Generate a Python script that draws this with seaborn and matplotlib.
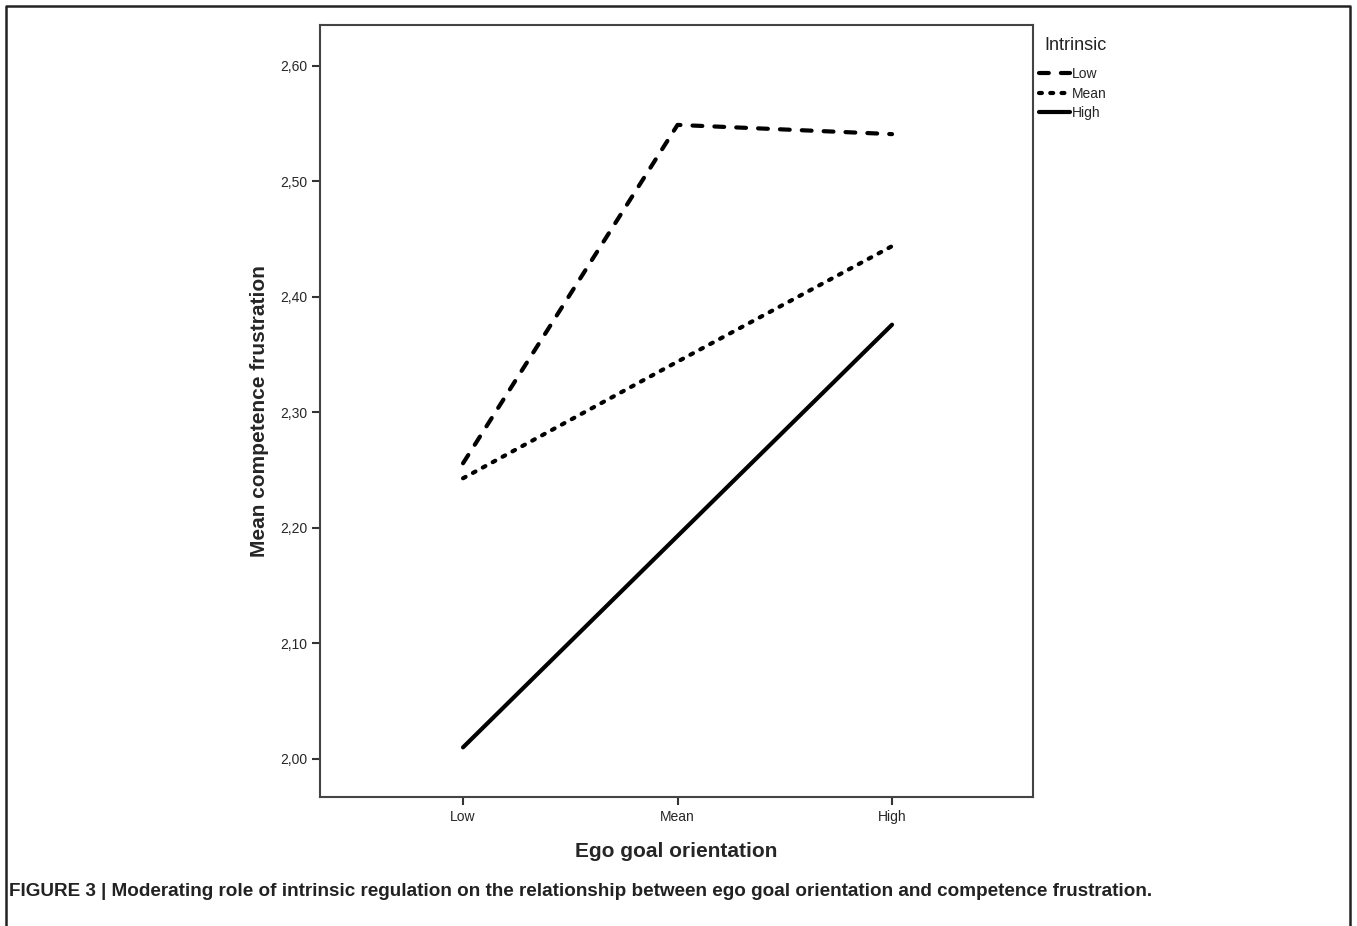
import seaborn as sns
import matplotlib.pyplot as plt
import pandas as pd
from matplotlib.lines import Line2D

# 数据
ego_levels = ["Low", "Mean", "High"]
intrinsic_levels = ["Low", "Mean", "High"]
low_intrinsic = [2.256, 2.549, 2.541]
mean_intrinsic = [2.243, 2.344, 2.444]
high_intrinsic = [2.010, 2.193, 2.376]
y_ticks = [2.0, 2.1, 2.2, 2.3, 2.4, 2.5, 2.6]
y_tick_labels = ["2,00", "2,10", "2,20", "2,30", "2,40", "2,50", "2,60"]
caption = ("FIGURE 3 | Moderating role of intrinsic regulation on the relationship "
           "between ego goal orientation and competence frustration.")

sns.set_style("white")
plt.rcParams["font.family"] = ["Liberation Sans", "DejaVu Sans"]

rows = []
for name, vals in zip(intrinsic_levels, [low_intrinsic, mean_intrinsic, high_intrinsic]):
    for i, v in enumerate(vals):
        rows.append({"ego": i, "value": v, "Intrinsic": name})
df = pd.DataFrame(rows)

dash_styles = {"Low": (2.35, 2.9), "Mean": (0.7, 2.0), "High": ""}

fig = plt.figure(figsize=(13.57, 9.26), dpi=100)
ax = fig.add_axes([0.2358, 0.1393, 0.5254, 0.8337])

sns.lineplot(data=df, x="ego", y="value", hue="Intrinsic", style="Intrinsic",
             hue_order=intrinsic_levels, style_order=intrinsic_levels,
             palette=["black"] * 3, dashes=dash_styles,
             linewidth=3, ax=ax, legend=False)
for line in ax.lines:
    line.set_dash_capstyle("round")
    line.set_solid_capstyle("round")

ax.set_xlim(-0.667, 2.657)
ax.set_ylim(1.967, 2.6355)
ax.set_xticks(range(len(ego_levels)))
ax.set_xticklabels(ego_levels)
ax.set_yticks(y_ticks)
ax.set_yticklabels(y_tick_labels)
ax.tick_params(axis="both", direction="out", length=6, width=1.5, color="#333333",
               labelsize=10, pad=3, left=True, bottom=True)
for sp in ax.spines.values():
    sp.set_visible(True)
    sp.set_color("#444444")
    sp.set_linewidth(1.5)

ax.set_xlabel("Ego goal orientation", fontsize=15, fontweight="bold", labelpad=13)
ax.set_ylabel("Mean competence frustration", fontsize=15, fontweight="bold", labelpad=8)

# 图例
handles = []
for name in intrinsic_levels:
    d = dash_styles[name]
    if d:
        h = Line2D([], [], color="black", lw=3, dash_capstyle="round")
        h.set_dashes(d)
    else:
        h = Line2D([], [], color="black", lw=3, solid_capstyle="round")
    handles.append(h)
fig.text(1044 / 1357, 1 - 45 / 926, "Intrinsic", fontsize=13, color="#222222",
         ha="left", va="center")
fig.legend(handles, intrinsic_levels, loc="upper left",
           bbox_to_anchor=(1039 / 1357, 1 - 67 / 926), frameon=False,
           fontsize=10, handlelength=2.2, handletextpad=0.15,
           labelspacing=0.4, borderpad=0, borderaxespad=0)

# 外框
fw = 1.8
fx0, fx1, fy1 = 6 / 1357, 1350 / 1357, 1 - 6 / 926
fig.add_artist(Line2D([fx0, fx0, fx1, fx1], [0, fy1, fy1, 0], transform=fig.transFigure,
                      color="#222222", lw=fw))

fig.text(9 / 1357, 1 - 891 / 926, caption, fontsize=13.6, fontweight="bold",
         color="#222222", va="center", ha="left")

fig.savefig("out.png", dpi=100)
